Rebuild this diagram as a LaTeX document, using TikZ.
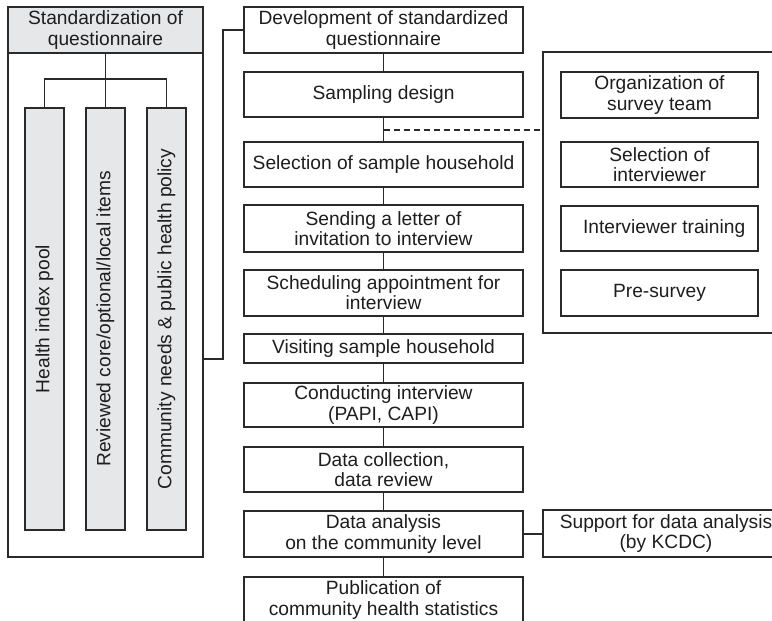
\documentclass[tikz,border=0pt]{standalone}
\usepackage{fontspec}
\setmainfont{Liberation Sans}
\definecolor{ln}{HTML}{2A2A2A}
\definecolor{txt}{HTML}{1E1E1E}
\definecolor{barfill}{HTML}{E6E7E8}
\begin{document}
\begin{tikzpicture}[x=0.75pt,y=-0.75pt,
  every node/.style={font=\fontsize{14.4}{15.2}\selectfont, text=txt, align=center, inner sep=0pt},
  conn/.style={draw=ln, line width=1.1pt},
  dashconn/.style={draw=ln, line width=1.1pt, dash pattern=on 4.5pt off 3pt},
  cbox/.style={draw=ln, line width=1.1pt, fill=white, minimum width=209.25pt, minimum height=#1},
  rbox/.style={draw=ln, line width=1.1pt, fill=white, minimum width=147.75pt, minimum height=#1},
  barbox/.style={draw=ln, line width=1.1pt, fill=barfill, rotate=90, minimum width=316.5pt, minimum height=29.25pt},
  framebox/.style={draw=ln, line width=1.1pt}]
\clip (0,0) rectangle (772,621);
% left panel
\node[framebox, minimum width=146.25pt, minimum height=412.5pt] (left) at (105.5,282) {};
\node[framebox, fill=barfill, minimum width=146.25pt, minimum height=34.5pt] (hdr) at (105.5,30) {Standardization of\\questionnaire};
\node[barbox] (bar1) at (44.5,319) {Health index pool};
\node[barbox] (bar2) at (105.5,319) {Reviewed core/optional/local items};
\node[barbox] (bar3) at (166.5,319) {Community needs \& public health policy};
\coordinate (tj) at (105.5,79);
\draw[conn] (bar1) |- (tj) -| (bar3);
\draw[conn] (hdr) -- (bar2);
% center column
\node[cbox=34.5pt] (b1) at (383.5,30) {Development of standardized\\questionnaire};
\node[cbox=33.75pt] (b2) at (383.5,94.5) {Sampling design};
\node[cbox=33.75pt] (b3) at (383.5,164.5) {Selection of sample household};
\node[cbox=35.25pt] (b4) at (383.5,228.5) {Sending a letter of\\invitation to interview};
\node[cbox=34.5pt] (b5) at (383.5,293) {Scheduling appointment for\\interview};
\node[cbox=21.75pt] (b6) at (383.5,348.5) {Visiting sample household};
\node[cbox=33pt] (b7) at (383.5,405) {Conducting interview\\(PAPI, CAPI)};
\node[cbox=33.75pt] (b8) at (383.5,469.5) {Data collection,\\data review};
\node[cbox=34.5pt] (b9) at (383.5,534) {Data analysis\\on the community level};
\node[cbox=34.5pt] (b10) at (383.5,600) {Publication of\\community health statistics};
\foreach \a/\b in {b1/b2,b2/b3,b3/b4,b4/b5,b5/b6,b6/b7,b7/b8,b8/b9,b9/b10}
  \draw[conn] (\a) -- (\b);
% bracket from left panel to first box
\coordinate (lj) at (left.east |- 0,359);
\coordinate (bx) at (223,359);
\draw[conn] (b1.west) -| (bx) -- (lj);
% right panel
\node[framebox, minimum width=175.5pt, minimum height=210.75pt] (panel) at (660,192.5) {};
\node[rbox=34.5pt] (r1) at (659.5,95) {Organization of\\survey team};
\node[rbox=33.75pt] (r2) at (659.5,164.5) {Selection of\\interviewer};
\node[rbox=33.75pt] (r3) at (659.5,228.5) {\hspace*{7pt}Interviewer training};
\node[rbox=34.5pt] (r4) at (659.5,293) {Pre-survey};
\coordinate (d0) at (383.5,130);
\draw[dashconn] (d0) -- (d0 -| panel.west);
% support box
\node[framebox, minimum width=184.5pt, minimum height=35.25pt] (sup) at (666,533.5) {Support for data analysis\\(by KCDC)};
\draw[conn] (b9.east) -- (b9.east -| sup.west);
\end{tikzpicture}
\end{document}
